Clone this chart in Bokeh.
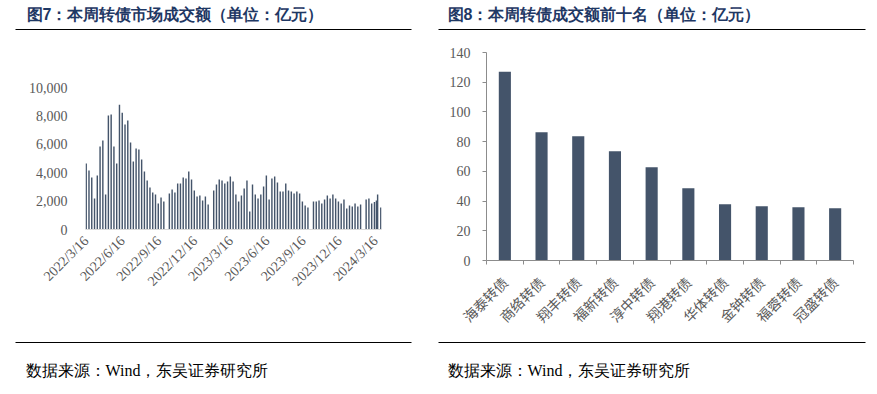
import math
import pandas as pd
from bokeh.plotting import figure
from bokeh.models import ColumnDataSource, FixedTicker, NumeralTickFormatter, Range1d
from bokeh.layouts import row, column
from bokeh.embed import file_html
from bokeh.resources import INLINE

# ---------------- data: weekly convertible-bond market turnover (亿元) ----------------
week_dates = [
    "2022-03-16", "2022-03-23", "2022-03-30", "2022-04-06", "2022-04-13", "2022-04-20", "2022-04-27",
    "2022-05-04", "2022-05-11", "2022-05-18", "2022-05-25", "2022-06-01", "2022-06-08", "2022-06-15",
    "2022-06-22", "2022-06-29", "2022-07-06", "2022-07-13", "2022-07-20", "2022-07-27", "2022-08-03",
    "2022-08-10", "2022-08-17", "2022-08-24", "2022-08-31", "2022-09-07", "2022-09-14", "2022-09-21",
    "2022-09-28",
    "2022-10-12", "2022-10-19", "2022-10-26", "2022-11-02", "2022-11-09", "2022-11-16", "2022-11-23",
    "2022-11-30", "2022-12-07", "2022-12-14", "2022-12-21", "2022-12-28", "2023-01-04", "2023-01-11",
    "2023-01-18",
    "2023-02-01", "2023-02-08", "2023-02-15", "2023-02-22", "2023-03-01", "2023-03-08", "2023-03-15",
    "2023-03-22", "2023-03-29", "2023-04-05", "2023-04-12", "2023-04-19", "2023-04-26", "2023-05-03",
    "2023-05-10", "2023-05-17", "2023-05-24", "2023-05-31", "2023-06-07", "2023-06-14", "2023-06-21",
    "2023-06-28", "2023-07-05", "2023-07-12", "2023-07-19", "2023-07-26", "2023-08-02", "2023-08-09",
    "2023-08-16", "2023-08-23", "2023-08-30", "2023-09-06", "2023-09-13", "2023-09-20", "2023-09-27",
    "2023-10-11", "2023-10-18", "2023-10-25", "2023-11-01", "2023-11-08", "2023-11-15", "2023-11-22",
    "2023-11-29", "2023-12-06", "2023-12-13", "2023-12-20", "2023-12-27", "2024-01-03", "2024-01-10",
    "2024-01-17", "2024-01-24", "2024-01-31", "2024-02-07",
    "2024-02-21", "2024-02-28", "2024-03-06", "2024-03-13", "2024-03-18", "2024-03-21", "2024-03-29",
]
week_turnover = [
    4650, 4150, 3660, 2180, 3800, 5840, 6260, 2460, 8030, 8090, 5840, 4650, 8790, 8230, 7390,
    7670, 6120, 4790, 5700, 5630, 4930, 4080, 3450, 2960, 2610, 2460, 1830, 2250, 1970,
    2530, 2820, 2610, 3240, 3240, 3660, 3590, 4080, 3520, 2750, 2320, 2390, 2040, 2320, 1760,
    2750, 3170, 3520, 3450, 3240, 3380, 3730, 3380, 2460, 1970, 2390, 2880, 3450, 1270, 3170,
    2460, 2180, 2460, 3030, 3800, 2110, 3590, 3730, 3310, 2680, 2680, 3240, 2750, 2680, 2530,
    2680, 2530, 1970, 1690, 1550,
    1970, 1970, 2040, 1830, 2110, 2390, 2180, 2460, 2180, 1970, 1830, 2110, 1480, 1690, 1620,
    1830, 1620, 1760,
    2110, 2180, 1830, 1940, 2040, 2460, 1550,
]
date_tick_dates = ["2022-03-16", "2022-06-16", "2022-09-16", "2022-12-16", "2023-03-16",
                   "2023-06-16", "2023-09-16", "2023-12-16", "2024-03-16"]
date_tick_labels = ["2022/3/16", "2022/6/16", "2022/9/16", "2022/12/16", "2023/3/16",
                    "2023/6/16", "2023/9/16", "2023/12/16", "2024/3/16"]
left_y_ticks = [0, 2000, 4000, 6000, 8000, 10000]

# ---------------- data: top-10 bonds by turnover (亿元) ----------------
bond_names = ["海泰转债", "商络转债", "翔丰转债", "福新转债", "淳中转债",
              "翔港转债", "华体转债", "金钟转债", "福蓉转债", "冠盛转债"]
bond_turnover = [127.0, 86.4, 83.7, 73.6, 62.8, 48.6, 37.8, 36.5, 35.8, 35.1]
right_y_ticks = [0, 20, 40, 60, 80, 100, 120, 140]

title_left = "图7：本周转债市场成交额（单位：亿元）"
title_right = "图8：本周转债成交额前十名（单位：亿元）"
source_text = "数据来源：Wind，东吴证券研究所"

# ---------------- style ----------------
BAR = "#44546A"
TXT = "#595959"
TITLE_C = "#1F3864"
SERIF = "Liberation Serif"
CJK = "Noto Sans CJK SC"
H_TOP, H_MID, H_BOT = 36, 300, 58
W_LEFT, W_RIGHT = 438, 439


def clean(p):
    p.outline_line_color = None
    p.xgrid.grid_line_color = None
    p.ygrid.grid_line_color = None
    p.background_fill_color = "white"
    p.border_fill_color = "white"


def strip(w, h):
    s = figure(width=w, height=h, output_backend="svg", toolbar_location=None,
               x_range=Range1d(0, w), y_range=Range1d(h, 0),
               x_axis_type=None, y_axis_type=None, min_border=0)
    clean(s)
    return s


def header(w, x_text, x0, x1, title):
    s = strip(w, H_TOP)
    s.text(x=[x_text], y=[14], text=[title], text_font_size="16px", text_font_style="bold",
           text_color=TITLE_C, text_baseline="middle", text_align="left")
    s.segment(x0=[x0], y0=[29], x1=[x1], y1=[29], line_color="#000000", line_width=1)
    return s


def footer(w, x_text, x0, x1):
    s = strip(w, H_BOT)
    s.segment(x0=[x0], y0=[6], x1=[x1], y1=[6], line_color="#000000", line_width=1)
    s.text(x=[x_text], y=[34], text=[source_text], text_font_size="16px",
           text_font={"value": SERIF}, text_color="#000000",
           text_baseline="middle", text_align="left")
    return s


# ---------------- left chart ----------------
origin = pd.Timestamp(week_dates[0])
day_x = [(pd.Timestamp(d) - origin).days for d in week_dates]
tick_x = [(pd.Timestamp(d) - origin).days for d in date_tick_dates]

p1 = figure(width=W_LEFT, height=H_MID, output_backend="svg", toolbar_location=None,
            x_range=Range1d(-1.8, day_x[-1] + 1.8), y_range=Range1d(0, 10000),
            min_border_left=85, min_border_right=57, min_border_top=51, min_border_bottom=107)
clean(p1)
src1 = ColumnDataSource(dict(x=day_x, top=week_turnover))
p1.vbar(x="x", top="top", width=3.6, source=src1, fill_color=BAR, line_color=None)

p1.yaxis.ticker = FixedTicker(ticks=left_y_ticks)
p1.yaxis.formatter = NumeralTickFormatter(format="0,0")
p1.yaxis.axis_line_color = None
p1.yaxis.major_tick_line_color = None
p1.yaxis.minor_tick_line_color = None
p1.yaxis.major_tick_out = 0
p1.yaxis.major_label_standoff = 18
p1.yaxis.major_label_text_font = SERIF
p1.yaxis.major_label_text_font_size = "14px"
p1.yaxis.major_label_text_color = TXT

p1.xaxis.ticker = FixedTicker(ticks=tick_x)
p1.xaxis.major_label_overrides = {t: l for t, l in zip(tick_x, date_tick_labels)}
p1.xaxis.major_label_orientation = math.pi / 4
p1.xaxis.axis_line_color = "#D9D9D9"
p1.xaxis.major_tick_line_color = None
p1.xaxis.minor_tick_line_color = None
p1.xaxis.major_tick_out = 0
p1.xaxis.major_label_standoff = 9
p1.xaxis.major_label_text_font = SERIF
p1.xaxis.major_label_text_font_size = "14px"
p1.xaxis.major_label_text_color = TXT

# ---------------- right chart ----------------
cat_x = list(range(1, len(bond_names) + 1))
p2 = figure(width=W_RIGHT, height=H_MID, output_backend="svg", toolbar_location=None,
            x_range=Range1d(0.5, len(bond_names) + 0.5), y_range=Range1d(0, 140),
            min_border_left=48, min_border_right=24, min_border_top=16, min_border_bottom=76)
clean(p2)
src2 = ColumnDataSource(dict(x=cat_x, top=bond_turnover))
p2.vbar(x="x", top="top", width=0.33, source=src2, fill_color=BAR, line_color=None)

AXC = "#8C8C8C"
p2.yaxis.ticker = FixedTicker(ticks=right_y_ticks)
p2.yaxis.axis_line_color = AXC
p2.yaxis.major_tick_line_color = AXC
p2.yaxis.major_tick_out = 4
p2.yaxis.major_tick_in = 0
p2.yaxis.minor_tick_line_color = None
p2.yaxis.major_label_standoff = 12
p2.yaxis.major_label_text_font = SERIF
p2.yaxis.major_label_text_font_size = "14px"
p2.yaxis.major_label_text_color = TXT

p2.xaxis.ticker = FixedTicker(ticks=cat_x, minor_ticks=[c - 0.5 for c in cat_x] + [cat_x[-1] + 0.5])
p2.xaxis.major_label_overrides = {c: n for c, n in zip(cat_x, bond_names)}
p2.xaxis.major_label_orientation = math.pi / 4
p2.xaxis.axis_line_color = AXC
p2.xaxis.major_tick_line_color = None
p2.xaxis.major_tick_out = 0
p2.xaxis.minor_tick_line_color = AXC
p2.xaxis.minor_tick_out = 4
p2.xaxis.minor_tick_in = 0
p2.xaxis.major_label_standoff = 15
p2.xaxis.major_label_text_font = CJK
p2.xaxis.major_label_text_font_size = "14px"
p2.xaxis.major_label_text_color = TXT

left_panel = column(header(W_LEFT, 26, 15, 411, title_left), row(p1),
                    footer(W_LEFT, 25, 15, 411))
right_panel = column(header(W_RIGHT, 9, -3, 427, title_right), row(p2),
                     footer(W_RIGHT, 9, -3, 427))
layout = row(left_panel, right_panel)
open("out.html", "w").write(file_html(layout, INLINE))
